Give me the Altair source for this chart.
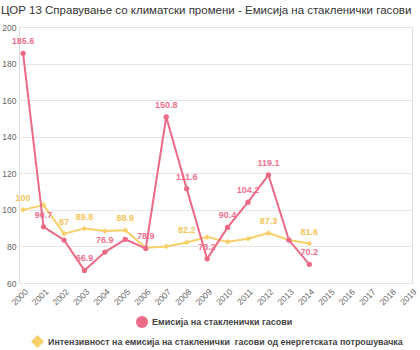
import altair as alt
import pandas as pd

years = list(range(2000, 2015))
emissions = [185.6, 90.7, 83.5, 66.9, 76.9, 83.9, 78.9, 150.8, 111.6, 73.2, 90.4, 104.2, 119.1, 83.5, 70.2]
intensity = [100, 102.6, 87, 89.8, 88.4, 88.9, 79.3, 80.0, 82.2, 85.1, 82.5, 84.2, 87.3, 83.5, 81.6]
emis_label_shown = [1, 1, 0, 1, 1, 0, 1, 1, 1, 1, 1, 1, 1, 0, 1]
int_label_shown = [1, 0, 1, 1, 0, 1, 0, 0, 1, 0, 0, 0, 1, 0, 1]
tick_years = list(range(2000, 2020))

name_emis = "Емисија на стакленички гасови"
name_int = "Интензивност на емисија на стакленички\u00a0 гасови од енергетската потрошувачка"
title = "ЦОР 13 Справување со климатски промени - Емисија на стакленички гасови"

RED = "#ed6a86"
RED_LBL = "#ef7190"
YEL = "#f7d06a"
YEL_LBL = "#f4c55a"

df_e = pd.DataFrame({"year": years, "value": emissions, "show": emis_label_shown, "series": name_emis})
df_i = pd.DataFrame({"year": years, "value": intensity, "show": int_label_shown, "series": name_int})

x = alt.X("year:Q", scale=alt.Scale(domain=[1999.8, 2019.02], nice=False, zero=False),
          axis=alt.Axis(values=tick_years, format="d", labelAngle=-45, grid=False, ticks=False,
                        domain=False, labelFontSize=8.5, labelColor="#666", labelPadding=4,
                        labelFont="Liberation Sans", title=None, labelOverlap=False))
y = alt.Y("value:Q", scale=alt.Scale(domain=[60, 200], nice=False, zero=False),
          axis=alt.Axis(values=[60, 80, 100, 120, 140, 160, 180, 200], grid=True, gridColor="#e6e6e6",
                        ticks=False, domain=False, labelFontSize=8.5, labelColor="#666", labelPadding=3,
                        labelFont="Liberation Sans", title=None))

legend_common = dict(title=None, orient="none", symbolStrokeWidth=0,
                     labelFontWeight="bold", labelColor="#444", labelFont="Liberation Sans",
                     labelOffset=4, labelLimit=0, padding=0)

line_i = alt.Chart(df_i).mark_line(color=YEL, strokeWidth=2).encode(x=x, y=y)
pts_i = alt.Chart(df_i).mark_point(filled=True, shape="diamond", size=32, opacity=1).encode(
    x=x, y=y,
    fill=alt.Fill("series:N", scale=alt.Scale(domain=[name_int], range=[YEL]),
                  legend=alt.Legend(legendX=12, legendY=308, symbolType="diamond", symbolSize=169,
                                    labelFontSize=8.9, **legend_common)))
lbl_i = alt.Chart(df_i).transform_filter("datum.show == 1").mark_text(
    color=YEL_LBL, fontSize=9, fontWeight="bold", font="Liberation Sans", dy=-9, baseline="alphabetic"
).encode(x=x, y=y, text=alt.Text("value:Q"))

line_e = alt.Chart(df_e).mark_line(color=RED, strokeWidth=2).encode(x=x, y=y)
pts_e = alt.Chart(df_e).mark_point(filled=True, shape="circle", size=28, opacity=1).encode(
    x=x, y=y,
    color=alt.Color("series:N", scale=alt.Scale(domain=[name_emis], range=[RED]),
                    legend=alt.Legend(legendX=117, legendY=289, symbolType="circle", symbolSize=144,
                                      labelFontSize=9, **legend_common)))
lbl_e = alt.Chart(df_e).transform_filter("datum.show == 1").mark_text(
    color=RED_LBL, fontSize=9, fontWeight="bold", font="Liberation Sans", dy=-9, baseline="alphabetic"
).encode(x=x, y=y, text=alt.Text("value:Q"))

chart = alt.layer(line_i, pts_i, line_e, pts_e, lbl_i, lbl_e).properties(
    width=393, height=256,
    padding={"left": 19, "top": 27, "right": 8, "bottom": 67},
    autosize=alt.AutoSizeParams(type="none"),
    title=alt.TitleParams(title, anchor="start", frame="group", dx=-18, fontSize=11.5,
                          fontWeight="normal", color="#333", font="Liberation Sans", offset=7),
).resolve_scale(color="independent").configure_view(stroke=None).configure(background="white")

chart.save("out.html", embed_options={"renderer": "svg", "actions": False})
